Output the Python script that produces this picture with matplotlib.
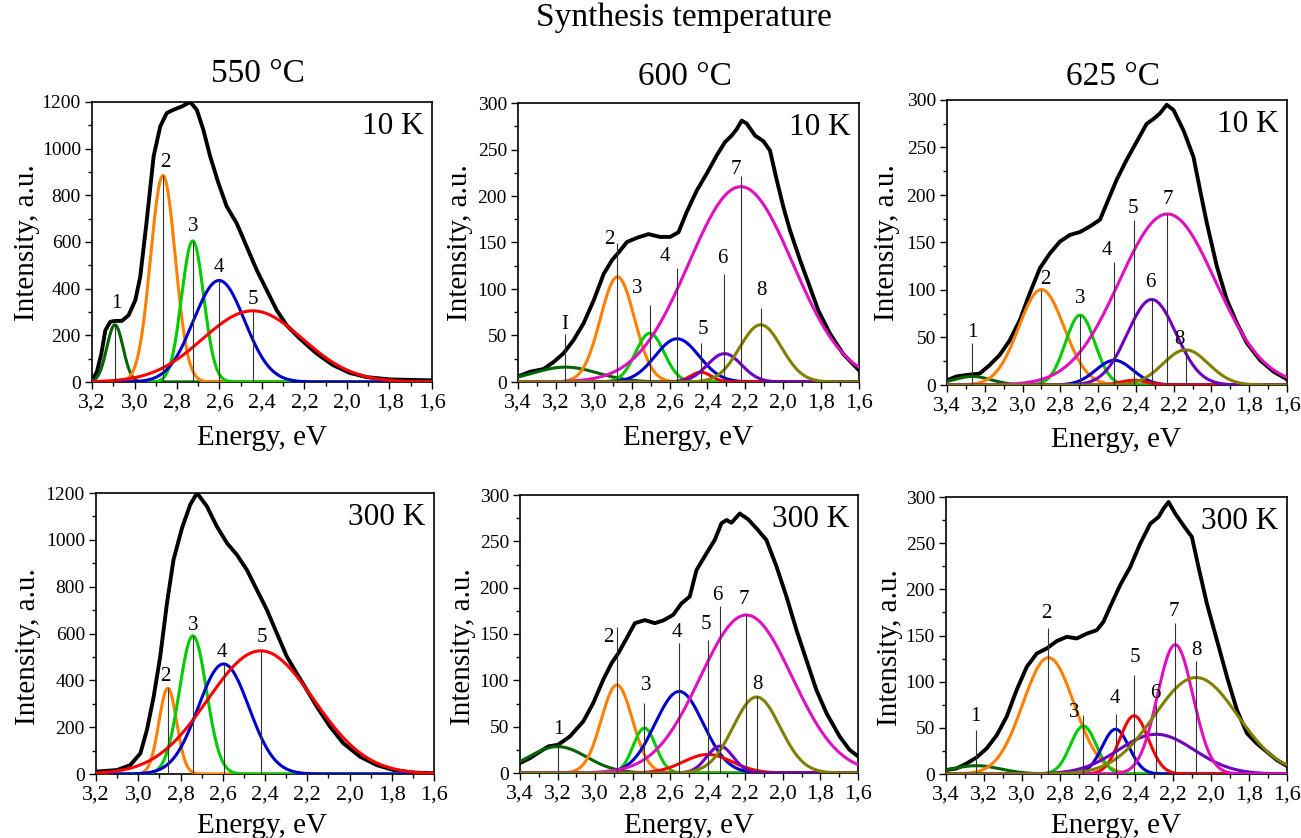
import numpy as np
import matplotlib
matplotlib.use("Agg")
import matplotlib.pyplot as plt
from matplotlib.ticker import MultipleLocator, FuncFormatter

plt.rcParams['font.family'] = ['Liberation Serif', 'DejaVu Serif']
plt.rcParams['mathtext.fontset'] = 'stix'

W, H = 1301, 838

# ---------------- DATA ----------------
temps = ["550 °C", "600 °C", "625 °C"]
meas = ["10 K", "10 K", "10 K", "300 K", "300 K", "300 K"]

# Experimental spectra (energy eV, intensity a.u.)
e_550_10 = [3.20, 3.177, 3.156, 3.137, 3.114, 3.09, 3.059, 3.028, 2.996, 2.973, 2.942, 2.91, 2.879, 2.848,
            2.816, 2.777, 2.738, 2.707, 2.676, 2.644, 2.605, 2.566, 2.519, 2.472, 2.425, 2.378, 2.331,
            2.284, 2.222, 2.143, 2.065, 1.987, 1.908, 1.799, 1.60]
i_550_10 = [7, 43, 122, 222, 258, 262, 262, 286, 351, 451, 695, 967, 1095, 1153,
            1167, 1181, 1200, 1167, 1081, 967, 852, 752, 680, 580, 480, 394, 308,
            243, 186, 122, 72, 39, 21, 11, 7]

e_600_10 = [3.40, 3.335, 3.265, 3.212, 3.159, 3.107, 3.054, 3.0, 2.948, 2.904, 2.866, 2.825, 2.773, 2.711,
            2.65, 2.597, 2.553, 2.509, 2.456, 2.404, 2.35, 2.307, 2.272, 2.245, 2.219, 2.193, 2.149,
            2.105, 2.07, 2.034, 1.999, 1.964, 1.911, 1.859, 1.815, 1.753, 1.683, 1.60]
i_600_10 = [6, 11, 14, 21.5, 31, 45, 63, 88, 116, 131, 140, 150.5, 155, 159,
            156, 156, 161, 183, 206, 224, 244, 258, 265, 272, 281, 278, 265,
            259, 249, 217, 188, 163, 131, 102, 77, 52, 30, 12.5]

e_625_10 = [3.40, 3.35, 3.297, 3.227, 3.174, 3.121, 3.068, 3.015, 2.962, 2.908, 2.855, 2.802, 2.749, 2.696,
            2.643, 2.59, 2.546, 2.502, 2.449, 2.396, 2.343, 2.307, 2.272, 2.237, 2.201, 2.148, 2.095,
            2.06, 2.024, 1.971, 1.918, 1.865, 1.812, 1.742, 1.671, 1.60]
i_625_10 = [5, 9, 10.5, 12, 21, 31.6, 47, 68, 96.5, 123, 138.6, 151, 158, 161,
            167, 174, 195, 216, 237, 256, 275, 280, 286, 295, 289.5, 268, 240,
            205, 170, 124.6, 89.5, 65, 44, 26, 14, 6]

e_550_300 = [3.20, 3.10, 3.038, 2.99, 2.959, 2.927, 2.896, 2.864, 2.833, 2.793, 2.754, 2.722, 2.675, 2.628,
             2.58, 2.533, 2.486, 2.439, 2.391, 2.344, 2.297, 2.25, 2.202, 2.155, 2.092, 2.029, 1.95,
             1.871, 1.792, 1.698, 1.60]
i_550_300 = [10, 17, 38, 88, 188, 330, 502, 730, 915, 1050, 1150, 1200, 1143, 1057,
             986, 936, 872, 787, 701, 601, 502, 430, 359, 288, 202, 131, 74,
             38, 17, 6, 3]

e_600_300 = [3.40, 3.347, 3.294, 3.249, 3.196, 3.134, 3.063, 3.01, 2.957, 2.912, 2.877, 2.832, 2.788, 2.735,
             2.682, 2.637, 2.584, 2.54, 2.496, 2.46, 2.407, 2.363, 2.327, 2.30, 2.274, 2.23, 2.185,
             2.132, 2.088, 2.034, 1.981, 1.928, 1.875, 1.822, 1.768, 1.698, 1.645, 1.60]
i_600_300 = [10.8, 16, 23, 28.7, 30.5, 39.5, 55.7, 75.5, 100.6, 118.6, 129, 145.5, 161.7, 165,
             161.7, 164.6, 170.7, 183, 190.4, 219, 237, 251.5, 269.5, 273, 270, 280, 273.8,
             262, 251.5, 222.8, 190.4, 154.5, 122, 89.8, 64.7, 39.5, 25, 18]

e_625_300 = [3.40, 3.344, 3.29, 3.238, 3.185, 3.132, 3.08, 3.027, 2.974, 2.921, 2.868, 2.815, 2.762, 2.71,
             2.657, 2.604, 2.569, 2.534, 2.481, 2.428, 2.375, 2.322, 2.278, 2.252, 2.225, 2.19, 2.146,
             2.102, 2.067, 2.023, 1.97, 1.917, 1.864, 1.811, 1.759, 1.706, 1.653, 1.60]
i_625_300 = [4.3, 6, 11.5, 18, 27.8, 42, 62, 91, 116, 130.5, 136, 144, 148.6, 146.8,
             152, 155.8, 164.8, 181, 204.5, 224, 249.5, 271, 278.4, 287.4, 294.6, 282, 269,
             256.7, 224, 184.6, 145, 105.3, 69, 44, 33, 24, 15, 8.6]

# Gaussian components: labels, centre (eV), height, sigma (eV), marker-line top
lab_550_10 = ["1", "2", "3", "4", "5"]
cen_550_10 = [3.092, 2.866, 2.726, 2.602, 2.444]
hgt_550_10 = [245, 885, 605, 435, 305]
sig_550_10 = [0.038, 0.058, 0.052, 0.12, 0.235]
top_550_10 = [245, 885, 605, 435, 305]

lab_600_10 = ["I", "2", "3", "4", "5", "6", "7", "8"]
cen_600_10 = [3.15, 2.875, 2.704, 2.56, 2.435, 2.31, 2.224, 2.119]
hgt_600_10 = [16, 113, 52.5, 46.5, 10.5, 30.5, 210, 61.5]
sig_600_10 = [0.17, 0.09, 0.075, 0.115, 0.055, 0.09, 0.275, 0.11]
top_600_10 = [52, 149, 83, 123, 42, 116, 221, 80]

lab_625_10 = ["1", "2", "3", "4", "5", "6", "7", "8"]
cen_625_10 = [3.266, 2.90, 2.695, 2.514, 2.41, 2.316, 2.233, 2.136]
hgt_625_10 = [9, 100.5, 73.5, 26, 5, 90, 180, 37]
sig_625_10 = [0.10, 0.12, 0.078, 0.098, 0.07, 0.128, 0.255, 0.12]
top_625_10 = [44, 100.5, 73.5, 129, 174, 90, 180, 37]

lab_550_300 = ["2", "3", "4", "5"]
cen_550_300 = [2.86, 2.741, 2.596, 2.42]
hgt_550_300 = [366, 590, 470, 526]
sig_550_300 = [0.042, 0.064, 0.12, 0.25]
top_550_300 = [366, 590, 470, 526]

lab_600_300 = ["1", "2", "3", "4", "5", "6", "7", "8"]
cen_600_300 = [3.20, 2.884, 2.737, 2.552, 2.40, 2.335, 2.195, 2.14]
hgt_600_300 = [28.5, 95, 48.5, 88, 20, 29, 170.5, 82]
sig_600_300 = [0.155, 0.083, 0.06, 0.128, 0.13, 0.07, 0.245, 0.125]
top_600_300 = [35, 158, 75.5, 140, 144, 180, 172, 82.6]

lab_625_300 = ["1", "2", "3", "4", "5", "6", "7", "8"]
cen_625_300 = [3.24, 2.859, 2.675, 2.505, 2.407, 2.29, 2.19, 2.08]
hgt_625_300 = [9, 126, 52, 48.5, 63, 43, 140, 104.5]
sig_625_300 = [0.13, 0.135, 0.068, 0.071, 0.075, 0.20, 0.094, 0.22]
top_625_300 = [47.6, 157.6, 64, 64.5, 107, 74.6, 163, 122.6]

# ---------------- label placement (annotation, data coords of text bottom-centre) ----------------
lx_550_10 = [3.086, 2.856, 2.726, 2.602, 2.441]
ly_550_10 = [294, 902, 627, 451, 315]
lx_600_10 = [3.154, 2.917, 2.769, 2.627, 2.425, 2.321, 2.251, 2.117]
ly_600_10 = [52, 143, 90.7, 124.7, 46.6, 123, 218.6, 88.5]
lx_625_10 = [3.266, 2.878, 2.693, 2.555, 2.413, 2.321, 2.233, 2.171]
ly_625_10 = [45.6, 100.7, 80.7, 131.6, 175.4, 97.5, 185, 37.5]
lx_550_300 = [2.872, 2.741, 2.603, 2.415]
ly_550_300 = [376, 594, 480, 544]
lx_600_300 = [3.196, 2.93, 2.726, 2.563, 2.41, 2.35, 2.207, 2.136]
ly_600_300 = [36.6, 136.5, 83.7, 141, 150, 181.5, 176.8, 85.5]
lx_625_300 = [3.247, 2.873, 2.722, 2.507, 2.405, 2.296, 2.199, 2.08]
ly_625_300 = [52, 163, 55.9, 72, 115.4, 76.5, 166, 124]

comp_colors = {"1": "#006400", "I": "#006400", "2": "#FF8000", "3": "#00CC00", "4": "#0000CC",
               "5": "#FF0000", "6": "#7000C0", "7": "#E010C0", "8": "#808000"}

panels = [
    dict(rect=(92, 102, 432, 382), e=e_550_10, i=i_550_10, lab=lab_550_10, cen=cen_550_10, hgt=hgt_550_10,
         sig=sig_550_10, top=top_550_10, lx=lx_550_10, ly=ly_550_10, xl=(3.2, 1.6), yl=(0, 1200), ymaj=200,
         ylab=(27.5, 243), xlab=(262, 445)),
    dict(rect=(518, 103, 859, 382), e=e_600_10, i=i_600_10, lab=lab_600_10, cen=cen_600_10, hgt=hgt_600_10,
         sig=sig_600_10, top=top_600_10, lx=lx_600_10, ly=ly_600_10, xl=(3.4, 1.6), yl=(0, 300), ymaj=50,
         ylab=(460, 243), xlab=(688, 445)),
    dict(rect=(947, 100, 1287, 385), e=e_625_10, i=i_625_10, lab=lab_625_10, cen=cen_625_10, hgt=hgt_625_10,
         sig=sig_625_10, top=top_625_10, lx=lx_625_10, ly=ly_625_10, xl=(3.4, 1.6), yl=(0, 300), ymaj=50,
         ylab=(887.5, 243), xlab=(1116, 447)),
    dict(rect=(96, 493, 434, 774), e=e_550_300, i=i_550_300, lab=lab_550_300, cen=cen_550_300, hgt=hgt_550_300,
         sig=sig_550_300, top=top_550_300, lx=lx_550_300, ly=ly_550_300, xl=(3.2, 1.6), yl=(0, 1200), ymaj=200,
         ylab=(28, 647), xlab=(262, 833)),
    dict(rect=(520, 495, 858, 773), e=e_600_300, i=i_600_300, lab=lab_600_300, cen=cen_600_300, hgt=hgt_600_300,
         sig=sig_600_300, top=top_600_300, lx=lx_600_300, ly=ly_600_300, xl=(3.4, 1.6), yl=(0, 300), ymaj=50,
         ylab=(463, 647), xlab=(689, 833)),
    dict(rect=(946, 497, 1287, 774), e=e_625_300, i=i_625_300, lab=lab_625_300, cen=cen_625_300, hgt=hgt_625_300,
         sig=sig_625_300, top=top_625_300, lx=lx_625_300, ly=ly_625_300, xl=(3.4, 1.6), yl=(0, 300), ymaj=50,
         ylab=(890, 648), xlab=(1116, 833)),
]

fig = plt.figure(figsize=(W / 100, H / 100), dpi=100)

comma = FuncFormatter(lambda v, p: ("%.1f" % v).replace(".", ","))

for k, p in enumerate(panels):
    l, t, r, b = p["rect"]
    ax = fig.add_axes([l / W, 1 - b / H, (r - l) / W, (b - t) / H])
    x = np.linspace(p["xl"][1], p["xl"][0], 800)
    ax.plot(p["e"], p["i"], color="black", lw=2.8, zorder=3, solid_joinstyle="round")
    for j, name in enumerate(p["lab"]):
        g = p["hgt"][j] * np.exp(-(x - p["cen"][j]) ** 2 / (2 * p["sig"][j] ** 2))
        ax.plot(x, g, color=comp_colors[name], lw=2.2, zorder=4)
    ax.vlines(p["cen"], 0, p["top"], colors="#333333", lw=0.8, zorder=5)
    for j, name in enumerate(p["lab"]):
        ax.text(p["lx"][j], p["ly"][j], name, ha="center", va="bottom", fontsize=15, zorder=6)
    ax.set_xlim(*p["xl"])
    ax.set_ylim(*p["yl"])
    ax.xaxis.set_major_locator(MultipleLocator(0.2))
    ax.xaxis.set_minor_locator(MultipleLocator(0.1))
    ax.yaxis.set_major_locator(MultipleLocator(p["ymaj"]))
    ax.yaxis.set_minor_locator(MultipleLocator(p["ymaj"] / 2))
    ax.xaxis.set_major_formatter(comma)
    ax.tick_params(which="both", direction="out", width=1.0, top=False, right=False)
    ax.tick_params(axis="x", labelsize=16)
    ax.tick_params(axis="y", labelsize=14)
    ax.tick_params(which="major", length=5, pad=3)
    ax.tick_params(which="minor", length=3)
    for s in ax.spines.values():
        s.set_linewidth(1.2)
    ax.text(0.975, 0.965, meas[k], transform=ax.transAxes, ha="right", va="top", fontsize=22.5, zorder=7)
    ax.set_ylabel("Intensity, a.u.", fontsize=21)
    ax.yaxis.set_label_coords(p["ylab"][0] / W, 1 - p["ylab"][1] / H, transform=fig.transFigure)
    ax.yaxis.label.set_va("center")
    ax.set_xlabel("Energy, eV", fontsize=21)
    ax.xaxis.set_label_coords(p["xlab"][0] / W, 1 - p["xlab"][1] / H, transform=fig.transFigure)
    ax.xaxis.label.set_va("baseline")

fig.text(684 / W, 1 - 26 / H, "Synthesis temperature", ha="center", va="baseline", fontsize=24)
for name, (cx, by) in zip(temps, [(258, 82), (685, 85), (1113, 85)]):
    fig.text(cx / W, 1 - by / H, name, ha="center", va="baseline", fontsize=24)

fig.savefig("out.png", dpi=100)
